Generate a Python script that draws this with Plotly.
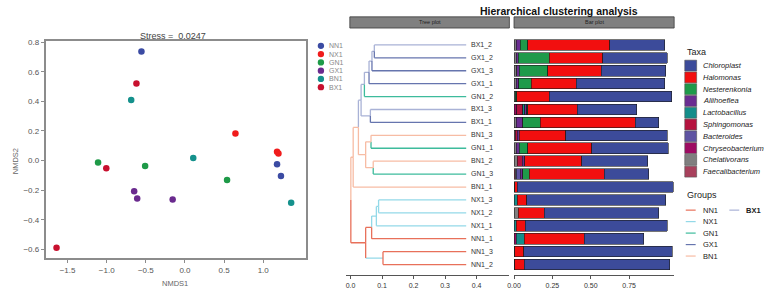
import plotly.graph_objects as go

W, H = 767, 290
FONT = "Liberation Sans, Arial, Helvetica, sans-serif"


def px(x):
    return x / W


def py(y):
    return 1 - y / H


# ---------------- NMDS data ----------------
groups = ["NN1", "NX1", "GN1", "GX1", "BN1", "BX1"]
point_colors = ["#3B4BA3", "#F01C1C", "#1E9A48", "#6A2A8E", "#15918C", "#C8102E"]
nn1_x = [-0.556, 1.177, 1.227]
nn1_y = [0.736, -0.024, -0.104]
nx1_x = [0.645, 1.177, 1.195]
nx1_y = [0.182, 0.060, 0.047]
gn1_x = [-1.110, -0.509, 0.538]
gn1_y = [-0.013, -0.036, -0.131]
gx1_x = [-0.649, -0.610, -0.157]
gx1_y = [-0.207, -0.256, -0.262]
bn1_x = [-0.687, 0.106, 1.357]
bn1_y = [0.409, 0.018, -0.284]
bx1_x = [-0.620, -1.005, -1.641]
bx1_y = [0.520, -0.051, -0.589]
nmds_x = [nn1_x, nx1_x, gn1_x, gx1_x, bn1_x, bx1_x]
nmds_y = [nn1_y, nx1_y, gn1_y, gx1_y, bn1_y, bx1_y]
stress = "0.0247"

# ---------------- dendrogram data ----------------
leaf_labels = ["BX1_2", "GX1_2", "GX1_3", "GX1_1", "GN1_2", "BX1_3", "BX1_1",
               "BN1_3", "GN1_1", "BN1_2", "GN1_3", "BN1_1",
               "NX1_3", "NX1_2", "NX1_1", "NN1_1", "NN1_3", "NN1_2"]
leaf_height = 0.367
# (node, child_a, child_b, merge position)
merges = [
    ("A", "BX1_2", "GX1_2", 0.0755),
    ("B", "A", "GX1_3", 0.068),
    ("C", "B", "GX1_1", 0.0587),
    ("D", "C", "GN1_2", 0.044),
    ("E", "BX1_3", "BX1_1", 0.063),
    ("F", "D", "E", 0.0335),
    ("H1", "BN1_3", "GN1_1", 0.065),
    ("H2", "BN1_2", "GN1_3", 0.072),
    ("H", "H1", "H2", 0.048),
    ("U1", "F", "H", 0.025),
    ("U", "U1", "BN1_1", 0.0084),
    ("P1", "NX1_3", "NX1_2", 0.089),
    ("P2", "P1", "NX1_1", 0.082),
    ("P3", "P2", "NN1_1", 0.067),
    ("Q", "NN1_3", "NN1_2", 0.103),
    ("L", "P3", "Q", 0.048),
    ("R", "U", "L", 0.001),
]
branch_group = {
    "BX1_2": "BX1", "GX1_2": "GX1", "A": "BX1", "GX1_3": "GX1", "B": "BX1",
    "GX1_1": "GX1", "C": "BX1", "GN1_2": "GN1", "D": "BX1", "BX1_3": "BX1",
    "BX1_1": "GX1", "E": "BX1", "F": "BX1",
    "BN1_3": "BN1", "GN1_1": "GN1", "BN1_2": "BN1", "GN1_3": "GN1",
    "H1": "BN1", "H2": "BN1", "H": "BN1", "U1": "BN1", "BN1_1": "BN1", "U": "BN1",
    "NX1_3": "NX1", "NX1_2": "NX1", "P1": "NX1", "NX1_1": "NX1", "P2": "NX1",
    "NN1_1": "NN1", "P3": "NN1", "NN1_3": "NN1", "NN1_2": "NN1", "Q": "NX1", "L": "NN1",
}
vertical_group_override = {"Q": "NN1"}
group_line_colors = {"NN1": "#E8705A", "NX1": "#93D9E8", "GN1": "#3DBB9C",
                     "GX1": "#6675AE", "BN1": "#F7BCA4", "BX1": "#A9B2D6"}
tree_ticks = [0.0, 0.1, 0.2, 0.3, 0.4]

# ---------------- bar data (rows follow leaf_labels) ----------------
taxa = ["Chloroplast", "Halomonas", "Nesterenkonia", "Aliihoeflea", "Lactobacillus",
        "Sphingomonas", "Bacteroides", "Chryseobacterium", "Chelativorans", "Faecalibacterium"]
taxa_colors = ["#3C4B9A", "#F20F0F", "#1E9A4A", "#6A2C91", "#138D8A",
               "#B5123E", "#5E53A3", "#9E0B62", "#7F7F7F", "#A8405C"]
chloroplast = [0.361, 0.419, 0.419, 0.578, 0.798, 0.390, 0.155, 0.661, 0.499, 0.430,
               0.290, 1.017, 0.905, 0.746, 0.925, 0.387, 0.968, 0.946]
halomonas = [0.531, 0.348, 0.348, 0.293, 0.210, 0.320, 0.617, 0.303, 0.415, 0.370,
             0.488, 0.015, 0.063, 0.172, 0.060, 0.392, 0.056, 0.063]
nesterenkonia = [0.052, 0.205, 0.187, 0.079, 0.010, 0.009, 0.116, 0, 0.056, 0,
                 0.043, 0, 0, 0, 0, 0, 0, 0]
aliihoeflea = [0.026, 0.013, 0.017, 0.019, 0, 0.013, 0.043, 0.013, 0.021, 0.017,
               0.018, 0, 0, 0, 0, 0, 0, 0]
lactobacillus = [0, 0, 0, 0, 0, 0.013, 0, 0, 0, 0, 0, 0, 0.021, 0, 0.013, 0.052, 0, 0]
sphingomonas = [0, 0, 0, 0, 0, 0.039, 0, 0.013, 0, 0.032, 0, 0, 0, 0, 0, 0, 0, 0.004]
bacteroides = [0, 0, 0, 0, 0, 0, 0, 0, 0, 0, 0.026, 0, 0, 0, 0, 0, 0, 0]
chryseobacterium = [0, 0, 0, 0, 0, 0.017, 0, 0, 0, 0, 0, 0, 0, 0, 0, 0.013, 0, 0]
chelativorans = [0.013, 0.013, 0.017, 0.013, 0.008, 0, 0.013, 0.008, 0.013, 0.021,
                 0.005, 0.005, 0, 0.026, 0, 0, 0.006, 0]
faecalibacterium = [0, 0, 0, 0, 0, 0, 0, 0, 0, 0, 0.008, 0, 0, 0, 0, 0, 0, 0]
taxa_values = [chloroplast, halomonas, nesterenkonia, aliihoeflea, lactobacillus,
               sphingomonas, bacteroides, chryseobacterium, chelativorans, faecalibacterium]
bar_ticks = [0.0, 0.25, 0.50, 0.75]

fig = go.Figure()

# ---- NMDS scatter ----
for g, c, xs, ys in zip(groups, point_colors, nmds_x, nmds_y):
    fig.add_trace(go.Scatter(x=xs, y=ys, mode="markers", name=g, showlegend=False,
                             marker=dict(color=c, size=6.5, line=dict(width=0)),
                             xaxis="x", yaxis="y"))

# ---- dendrogram ----
pos_x = {lab: leaf_height for lab in leaf_labels}
pos_y = {lab: i for i, lab in enumerate(leaf_labels)}
segs = {}


def add_seg(color, xs, ys):
    d = segs.setdefault(color, ([], []))
    d[0].extend(xs + [None])
    d[1].extend(ys + [None])


for name, a, b, h in merges:
    pos_x[name] = h
    pos_y[name] = (pos_y[a] + pos_y[b]) / 2
    for ch in (a, b):
        hc = group_line_colors[branch_group[ch]]
        vc = group_line_colors[vertical_group_override.get(ch, branch_group[ch])]
        add_seg(vc, [h, h], [pos_y[name], pos_y[ch]])
        add_seg(hc, [h, pos_x[ch]], [pos_y[ch], pos_y[ch]])

for color, (xs, ys) in segs.items():
    fig.add_trace(go.Scatter(x=xs, y=ys, mode="lines", showlegend=False,
                             line=dict(color=color, width=1.3),
                             xaxis="x2", yaxis="y2", hoverinfo="skip"))

# ---- stacked bars (left to right: reverse of legend order) ----
rows = list(range(len(leaf_labels)))
for t, c, vals in reversed(list(zip(taxa, taxa_colors, taxa_values))):
    fig.add_trace(go.Bar(x=[v if v else None for v in vals], y=rows, orientation="h",
                         name=t, showlegend=False, width=0.82,
                         marker=dict(color=c, line=dict(color="#1a1a1a", width=0.6)),
                         xaxis="x3", yaxis="y3"))

annotations = []
shapes = []


def ann(x, y, text, size, color, xanchor="center", **kw):
    annotations.append(dict(x=px(x), y=py(y), xref="paper", yref="paper", text=text,
                            showarrow=False, xanchor=xanchor, yanchor="middle",
                            font=dict(size=size, color=color, family=FONT), **kw))


# tree leaf labels
for i, lab in enumerate(leaf_labels):
    annotations.append(dict(x=0.375, y=i, xref="x2", yref="y2", text=lab, showarrow=False,
                            xanchor="left", yanchor="middle",
                            font=dict(size=7, color="#333333", family=FONT)))

# NMDS texts
ann(168, 33, "Stress =  " + stress, 9, "#444444")
ann(170, 283, "NMDS1", 7.5, "#666666")
ann(8, 160, "NMDS2", 7.5, "#666666", textangle=-90)
for i, (g, c) in enumerate(zip(groups, point_colors)):
    yc = 43.3 + 8.35 * i
    shapes.append(dict(type="circle", xref="paper", yref="paper",
                       x0=px(313.6), x1=px(320.0), y0=py(yc + 3.2), y1=py(yc - 3.2),
                       fillcolor=c, line=dict(width=0)))
    ann(322.5, yc, g, 7, "#888888", xanchor="left")

# main title and strips
ann(557, 8.5, "<b>Hierarchical clustering analysis</b>", 10.5, "#111111")
for x0, x1, txt in [(346, 507, "Tree plot"), (511.7, 673.3, "Bar plot")]:
    shapes.append(dict(type="rect", xref="paper", yref="paper", x0=px(x0), x1=px(x1),
                       y0=py(25.3), y1=py(14), fillcolor="#808080",
                       line=dict(color="#3a3a3a", width=0.8)))
    ann((x0 + x1) / 2, 19.7, txt, 5.5, "#222222")

# Taxa legend
ann(684, 49.5, "Taxa", 9, "#222222", xanchor="left")
for i, (t, c) in enumerate(zip(taxa, taxa_colors)):
    yc = 63.3 + 11.9 * i
    shapes.append(dict(type="rect", xref="paper", yref="paper", x0=px(684), x1=px(696),
                       y0=py(yc + 5.5), y1=py(yc - 5.5), fillcolor=c,
                       line=dict(color="#555555", width=0.6)))
    ann(700, yc, "<i>" + t + "</i>", 7.5, "#222222", xanchor="left")

# Groups legend
ann(684, 194, "Groups", 9, "#222222", xanchor="left")
for i, g in enumerate(groups):
    if i < 5:
        lx, yc, txt = 685, 209.3 + 11.6 * i, g
    else:
        lx, yc, txt = 729, 209.3, "<b>" + g + "</b>"
    shapes.append(dict(type="line", xref="paper", yref="paper", x0=px(lx), x1=px(lx + 10),
                       y0=py(yc), y1=py(yc), line=dict(color=group_line_colors[g], width=1.2)))
    ann(lx + 15, yc, txt, 7.5, "#222222", xanchor="left")

frame = "#8c8c8c"
tick_font = dict(size=8, color="#555555", family=FONT)
small_font = dict(size=7, color="#333333", family=FONT)
panel_y_domain = [py(275), py(26)]
panel_y_range = [17.82, -1.25]

fig.update_layout(
    width=W, height=H, margin=dict(l=0, r=0, t=0, b=0),
    paper_bgcolor="white", plot_bgcolor="white",
    barmode="stack", showlegend=False,
    annotations=annotations, shapes=shapes,
    font=dict(family=FONT),
    xaxis=dict(domain=[px(39), px(302)], range=[-1.78, 1.55], tickvals=[-1.5, -1.0, -0.5, 0.0, 0.5, 1.0],
               tickformat=".1f", showgrid=False, zeroline=False, showline=True, mirror=True,
               linecolor=frame, linewidth=1.6, ticks="outside", ticklen=3, tickcolor=frame,
               tickfont=tick_font),
    yaxis=dict(domain=[py(258), py(38)], range=[-0.66, 0.81],
               tickvals=[-0.6, -0.4, -0.2, 0.0, 0.2, 0.4, 0.6, 0.8], tickformat=".1f",
               showgrid=False, zeroline=False, showline=True, mirror=True,
               linecolor=frame, linewidth=1.6, ticks="outside", ticklen=3, tickcolor=frame,
               tickfont=tick_font),
    xaxis2=dict(domain=[px(341.7), px(507)], range=[-0.0157, 0.504], anchor="y2",
                tickvals=tree_ticks, tickformat=".1f", showgrid=False, zeroline=False,
                showline=True, linecolor="#555555", linewidth=1, ticks="outside", ticklen=3,
                tickcolor="#555555", tickfont=small_font),
    yaxis2=dict(domain=panel_y_domain, range=panel_y_range, anchor="x2", visible=False),
    xaxis3=dict(domain=[px(511.7), px(673.3)], range=[0, 1.043], anchor="y3",
                tickvals=bar_ticks, tickformat=".2f", showgrid=False, zeroline=False,
                showline=True, linecolor="#555555", linewidth=1, ticks="outside", ticklen=3,
                tickcolor="#555555", tickfont=small_font),
    yaxis3=dict(domain=panel_y_domain, range=panel_y_range, anchor="x3", visible=False),
)

fig.write_html("out.html")
